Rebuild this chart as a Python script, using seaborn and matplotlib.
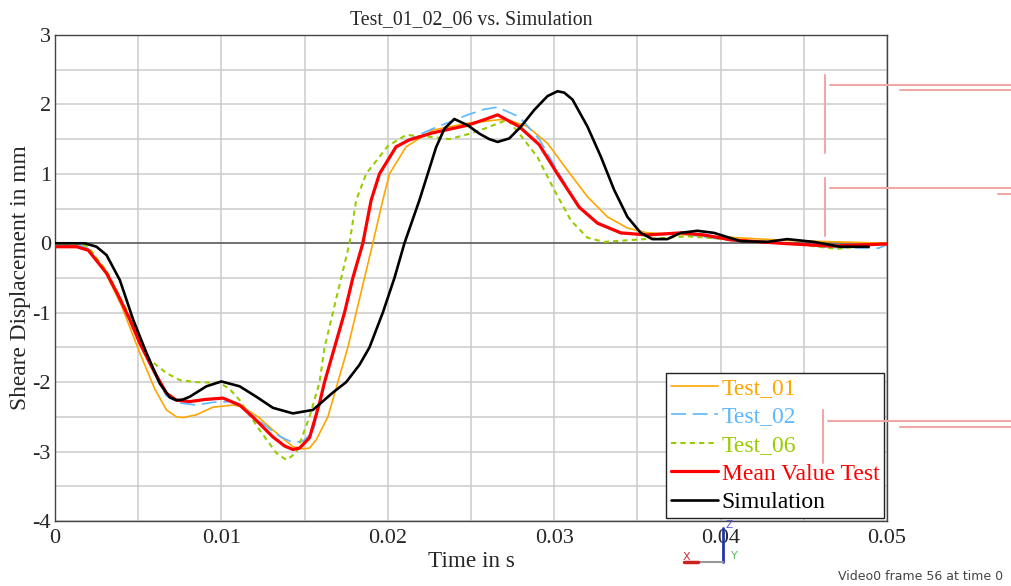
import matplotlib
matplotlib.use("Agg")
import matplotlib.pyplot as plt
from matplotlib.lines import Line2D
from matplotlib.ticker import MultipleLocator
import numpy as np
import pandas as pd
import seaborn as sns

# Test_01
t_01 = [0, 0.0015, 0.002, 0.0031, 0.004, 0.0051, 0.006, 0.0067, 0.0073, 0.0077, 0.0085, 0.0095,
        0.0107, 0.0113, 0.0122, 0.0131, 0.0143, 0.0149, 0.0153, 0.0157, 0.0164, 0.0170, 0.0176,
        0.0181, 0.0186, 0.0191, 0.0197, 0.0201, 0.0211, 0.0227, 0.0248, 0.0267, 0.0272, 0.0284,
        0.0296, 0.0308, 0.032, 0.0332, 0.0344, 0.0356, 0.038, 0.041, 0.044, 0.047, 0.05]
y_01 = [-0.03, -0.03, -0.08, -0.45, -0.9, -1.58, -2.1, -2.4, -2.50, -2.51, -2.47, -2.36,
        -2.33, -2.36, -2.50, -2.69, -2.93, -2.96, -2.95, -2.83, -2.5, -2.0, -1.5,
        -1.0, -0.5, 0.0, 0.62, 1.0, 1.39, 1.63, 1.73, 1.78, 1.78, 1.68,
        1.44, 1.05, 0.67, 0.38, 0.22, 0.15, 0.12, 0.08, 0.04, 0.02, 0.0]

# Test_02
t_02 = [0, 0.0015, 0.002, 0.0031, 0.0045, 0.0051, 0.0059, 0.0067, 0.0075, 0.0085, 0.0095, 0.0105,
        0.0115, 0.0125, 0.0135, 0.0143, 0.0149, 0.0155, 0.0162, 0.0168, 0.0174, 0.0179, 0.0185,
        0.019, 0.0195, 0.0205, 0.0213, 0.0227, 0.0248, 0.0258, 0.0266, 0.0279, 0.0291, 0.0303,
        0.0315, 0.0326, 0.034, 0.0356, 0.0376, 0.0406, 0.0436, 0.0466, 0.0495, 0.05]
y_02 = [-0.03, -0.03, -0.08, -0.43, -1.1, -1.42, -1.85, -2.2, -2.3, -2.33, -2.29, -2.28,
        -2.4, -2.6, -2.78, -2.87, -2.85, -2.72, -2.0, -1.5, -1.0, -0.5, 0.0,
        0.62, 1.0, 1.40, 1.50, 1.65, 1.85, 1.93, 1.96, 1.82, 1.5, 1.0,
        0.52, 0.28, 0.14, 0.11, 0.14, 0.04, 0.0, -0.06, -0.07, -0.02]

# Test_06
t_06 = [0, 0.0015, 0.002, 0.0031, 0.0045, 0.0055, 0.0067, 0.0075, 0.0085, 0.0099, 0.0105, 0.0111,
        0.0123, 0.0133, 0.0139, 0.0145, 0.0153, 0.0159, 0.0162, 0.0167, 0.0172, 0.0177, 0.0181,
        0.0187, 0.02, 0.0211, 0.0227, 0.0237, 0.0248, 0.0258, 0.0272, 0.0279, 0.029, 0.03, 0.031,
        0.032, 0.033, 0.0348, 0.038, 0.041, 0.044, 0.047, 0.05]
y_06 = [0.0, 0.0, -0.05, -0.4, -1.05, -1.64, -1.87, -1.97, -2.0, -2.01, -2.1, -2.26,
        -2.69, -3.02, -3.12, -3.02, -2.50, -2.0, -1.5, -1.0, -0.5, 0.0, 0.62,
        1.0, 1.40, 1.56, 1.53, 1.50, 1.57, 1.65, 1.78, 1.58, 1.24, 0.77, 0.33,
        0.08, 0.02, 0.05, 0.1, 0.05, 0.0, -0.08, 0.0]

# Mean Value Test
t_mean = [0, 0.0013, 0.002, 0.0031, 0.0038, 0.0045, 0.0051, 0.0059, 0.0067, 0.0073, 0.0081, 0.009,
          0.0101, 0.0111, 0.0121, 0.0131, 0.0138, 0.0143, 0.0147, 0.0153, 0.0159, 0.0162, 0.0168,
          0.0174, 0.0179, 0.0185, 0.019, 0.0195, 0.0205, 0.0213, 0.0227, 0.0248, 0.0258, 0.0266,
          0.0279, 0.0291, 0.0303, 0.0315, 0.0326, 0.034, 0.0356, 0.0376, 0.039, 0.0406, 0.0436,
          0.0466, 0.05]
y_mean = [-0.05, -0.05, -0.1, -0.43, -0.75, -1.10, -1.44, -1.82, -2.16, -2.26, -2.28, -2.25,
          -2.23, -2.33, -2.55, -2.79, -2.92, -2.97, -2.95, -2.8, -2.3, -2.0, -1.5,
          -1.0, -0.5, 0.0, 0.62, 1.0, 1.39, 1.49, 1.59, 1.70, 1.78, 1.85,
          1.68, 1.42, 0.96, 0.52, 0.29, 0.15, 0.12, 0.15, 0.12, 0.05, 0.0,
          -0.04, -0.01]

# Simulation
t_sim = [0, 0.0018, 0.0025, 0.0031, 0.0039, 0.0047, 0.0055, 0.0063, 0.0069, 0.0073, 0.0077, 0.0081,
         0.0091, 0.0100, 0.0111, 0.0121, 0.0131, 0.0143, 0.0155, 0.0167, 0.0175, 0.0183, 0.0189,
         0.0197, 0.0204, 0.021, 0.0219, 0.0224, 0.0229, 0.0234, 0.0240, 0.0248, 0.0255, 0.0261,
         0.0266, 0.0273, 0.028, 0.0288, 0.0296, 0.0302, 0.0306, 0.0311, 0.032, 0.0328, 0.0336,
         0.0344, 0.0352, 0.0359, 0.0368, 0.0376, 0.0386, 0.0396, 0.0412, 0.0428, 0.044, 0.0456,
         0.0472, 0.0489]
y_sim = [0.0, 0.0, -0.05, -0.17, -0.53, -1.10, -1.58, -2.02, -2.22, -2.26, -2.25, -2.21,
         -2.06, -1.99, -2.06, -2.21, -2.37, -2.45, -2.40, -2.15, -2.0, -1.75, -1.5,
         -1.0, -0.5, 0.0, 0.62, 1.0, 1.38, 1.65, 1.79, 1.70, 1.58, 1.50,
         1.46, 1.51, 1.68, 1.92, 2.12, 2.19, 2.17, 2.07, 1.68, 1.25, 0.77,
         0.38, 0.15, 0.06, 0.06, 0.15, 0.18, 0.15, 0.03, 0.02, 0.06, 0.02,
         -0.05, -0.05]

names = ["Test_01", "Test_02", "Test_06", "Mean Value Test", "Simulation"]
times = [t_01, t_02, t_06, t_mean, t_sim]
values = [y_01, y_02, y_06, y_mean, y_sim]
colors = ["#FFA500", "#5CB8FF", "#99CC00", "#FF0000", "#000000"]
widths = [1.2, 1.2, 1.5, 2.3, 1.9]
dashes = ["-", (0, (9, 4)), (0, (2.5, 2)), "-", "-"]

df = pd.concat([pd.DataFrame({"Time": t, "Value": v, "Series": n})
                for t, v, n in zip(times, values, names)])

sns.set_style("white")
plt.rcParams["font.family"] = ["Liberation Serif", "DejaVu Serif"]
plt.rcParams["axes.unicode_minus"] = False

fig = plt.figure(figsize=(10.12, 5.86), dpi=100)
ax = fig.add_axes([0.0543, 0.1109, 0.8222, 0.8294])

for n, c, w, d in zip(names, colors, widths, dashes):
    sns.lineplot(data=df[df["Series"] == n], x="Time", y="Value", color=c, lw=w,
                 linestyle=d, label=n, ax=ax, zorder=3)

ax.set_xlim(0, 0.05)
ax.set_ylim(-4, 3)
ax.xaxis.set_major_locator(MultipleLocator(0.01))
ax.xaxis.set_minor_locator(MultipleLocator(0.005))
ax.yaxis.set_major_locator(MultipleLocator(1))
ax.yaxis.set_minor_locator(MultipleLocator(0.5))
ax.set_xticks([0, 0.01, 0.02, 0.03, 0.04, 0.05])
ax.set_xticklabels(["0", "0.01", "0.02", "0.03", "0.04", "0.05"])
ax.grid(True, which="both", color="#cccccc", lw=1.1)
ax.axhline(0, color="#555555", lw=1.1, zorder=2)
ax.tick_params(axis="both", which="both", length=0, labelsize=16)
ax.tick_params(axis="x", pad=6)
ax.tick_params(axis="y", pad=3)
for s in ax.spines.values():
    s.set_color("#444444")
    s.set_linewidth(1.0)

ax.set_title("Test_01_02_06 vs. Simulation", fontsize=14.3, pad=8)
ax.set_xlabel("Time in s", fontsize=16.7, labelpad=2)
ax.set_ylabel("Sheare Displacement in mm", fontsize=16.8, labelpad=1)

leg = ax.legend(loc="lower right", fontsize=17, frameon=True, fancybox=False,
                edgecolor="#222222", handlelength=2.0, handletextpad=0.15,
                borderpad=0.2, labelspacing=0.3, borderaxespad=0.13)
leg.get_frame().set_linewidth(1.0)
leg.get_frame().set_alpha(1)
for txt, c in zip(leg.get_texts(), colors):
    txt.set_color(c)

# overlay remnants from the screen capture
pink = "#F2A7A7"
for x0, y0, y1, yh in [(825, 75, 153, 85), (825, 178, 236, 188), (823, 410, 463, 421)]:
    fig.add_artist(Line2D([x0 / 1012, x0 / 1012], [1 - y0 / 586, 1 - y1 / 586], color=pink, lw=1.5))
    fig.add_artist(Line2D([(x0 + 5) / 1012, 1.0], [1 - yh / 586, 1 - yh / 586], color=pink, lw=1.5))
fig.add_artist(Line2D([900 / 1012, 1.0], [1 - 90 / 586, 1 - 90 / 586], color=pink, lw=1.5))
fig.add_artist(Line2D([998 / 1012, 1.0], [1 - 194 / 586, 1 - 194 / 586], color=pink, lw=1.5))
fig.add_artist(Line2D([900 / 1012, 1.0], [1 - 427 / 586, 1 - 427 / 586], color=pink, lw=1.5))

# axis triad
fig.add_artist(Line2D([723 / 1012, 723 / 1012], [1 - 562 / 586, 1 - 528 / 586], color="#2233AA", lw=2))
fig.add_artist(Line2D([690 / 1012, 723 / 1012], [1 - 562 / 586, 1 - 562 / 586], color="#999999", lw=1.5))
fig.add_artist(Line2D([684 / 1012, 698 / 1012], [1 - 562 / 586, 1 - 562 / 586], color="#CC2222", lw=2.5))
fig.text(729 / 1012, 1 - 525 / 586, "Z", color="#5555CC", fontsize=7.5, family="DejaVu Sans",
         ha="center", va="center")
fig.text(686 / 1012, 1 - 557 / 586, "X", color="#CC3333", fontsize=8, family="DejaVu Sans",
         ha="center", va="center")
fig.text(734 / 1012, 1 - 556 / 586, "Y", color="#55BB55", fontsize=8, family="DejaVu Sans",
         ha="center", va="center")
fig.text(838 / 1012, 1 - 577 / 586, "Video0 frame 56 at time 0", color="#444444", fontsize=9,
         family="DejaVu Sans", ha="left", va="center")

fig.savefig("out.png", dpi=100)
